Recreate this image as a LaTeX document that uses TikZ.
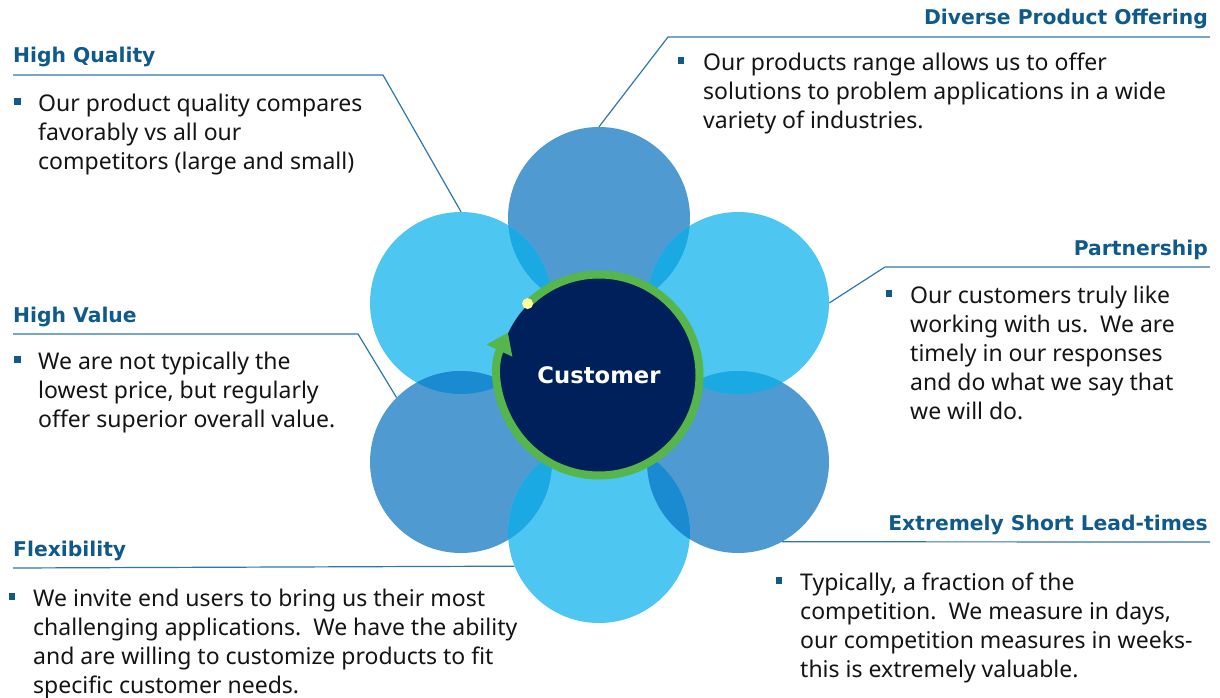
\documentclass[tikz,border=0pt]{standalone}
\usepackage{fontspec}
\setmainfont{Noto Sans}
\newfontfamily\headfont{DejaVu Sans}
\usetikzlibrary{arrows.meta}
\definecolor{medblue}{HTML}{4F9BD1}
\definecolor{lightblue}{HTML}{4DC6F2}
\definecolor{brightov}{HTML}{1AA9E3}
\definecolor{darkov}{HTML}{1A8BD0}
\definecolor{navy}{HTML}{00205B}
\definecolor{ringgreen}{HTML}{56B54B}
\definecolor{headcol}{HTML}{0F5A8A}
\definecolor{linecol}{HTML}{2E78A6}
\definecolor{bodycol}{HTML}{141414}
\definecolor{dotyellow}{HTML}{FFFF99}
\begin{document}
\begin{tikzpicture}[x=1pt,y=-1pt,
  petal/.style={circle,minimum size=182pt,inner sep=0pt},
  headL/.style={anchor=base west,inner sep=0pt,text=headcol,font=\headfont\bfseries\fontsize{20.3}{24}\selectfont},
  headR/.style={anchor=base east,inner sep=0pt,text=headcol,font=\headfont\bfseries\fontsize{20.3}{24}\selectfont},
  body/.style={anchor=base west,inner sep=0pt,text=bodycol,font=\fontsize{23}{29}\selectfont},
  bulletbox/.style={rectangle,fill=headcol,minimum size=6.5pt,inner sep=0pt},
  conn/.style={draw=linecol,line width=1.2pt},
  ring/.style={draw=ringgreen,line width=8pt,-{Triangle[length=20pt,width=27pt]}}
]
\useasboundingbox (0,0) rectangle (1220,698);
% petals
\node[petal,fill=medblue]   (ptop) at (599,218) {};
\node[petal,fill=lightblue] (pul)  at (461,303) {};
\node[petal,fill=lightblue] (pur)  at (738,303) {};
\node[petal,fill=medblue]   (pll)  at (461,462) {};
\node[petal,fill=medblue]   (plr)  at (738,462) {};
\node[petal,fill=lightblue] (pbot) at (599,532) {};
% overlaps
\begin{scope}\clip (ptop.center) circle[radius=91pt]; \fill[brightov] (pul.center) circle[radius=91pt];\end{scope}
\begin{scope}\clip (ptop.center) circle[radius=91pt]; \fill[brightov] (pur.center) circle[radius=91pt];\end{scope}
\begin{scope}\clip (pur.center) circle[radius=91pt]; \fill[brightov] (plr.center) circle[radius=91pt];\end{scope}
\begin{scope}\clip (plr.center) circle[radius=91pt]; \fill[darkov] (pbot.center) circle[radius=91pt];\end{scope}
\begin{scope}\clip (pbot.center) circle[radius=91pt]; \fill[brightov] (pll.center) circle[radius=91pt];\end{scope}
\begin{scope}\clip (pll.center) circle[radius=91pt]; \fill[darkov] (pul.center) circle[radius=91pt];\end{scope}
% centre
\node[circle,fill=navy,minimum size=200pt,inner sep=0pt,text=white,
      font=\headfont\bfseries\fontsize{22.7}{27}\selectfont] (cust) at (599,375) {Customer};
\begin{scope}[shift={(cust.center)},y=1pt]
  \draw[ring] (135:100.5) arc[start angle=135,end angle=-205,radius=100.5pt];
\end{scope}
\node[circle,fill=dotyellow,minimum size=11pt,inner sep=0pt] (dot) at ([shift={(135:101pt)}]cust.center) {};
% headings
\node[headL] (hq)   at (13,63)   {High Quality};
\node[headR] (dpo)  at (1208,25) {Diverse Product Offering};
\node[headR] (part) at (1208,255){Partnership};
\node[headL] (hv)   at (13,322)  {High Value};
\node[headL] (flex) at (13,556)  {Flexibility};
\node[headR] (esl)  at (1208,530){Extremely Short Lead-times};
% connector coordinates
\coordinate (hqL) at (13,75);   \coordinate (hqB) at (383,75);
\coordinate (dpoR) at (1210,37); \coordinate (dpoB) at (668,37);
\coordinate (partR) at (1210,267); \coordinate (partB) at (885,267);
\coordinate (hvL) at (13,334);  \coordinate (hvB) at (358,334);
\coordinate (flexL) at (13,568);
\coordinate (eslR) at (1210,542);
\draw[conn] (hqL) -- (hqB) -- (pul.north);
\draw[conn] (dpoR) -- (dpoB) -- (ptop.north);
\draw[conn] (partR) -- (partB) -- (pur.east);
\draw[conn] (hvL) -- (hvB) -- (pll.north west);
\draw[conn] (flexL) -- (pbot.202.6);
\draw[conn] (eslR) -- (plr.-61.7);
% bullets
\node[bulletbox] (bhq)   at (17.5,101.5) {};
\node[bulletbox] (bdpo)  at (681,60.5) {};
\node[bulletbox] (bpart) at (889,293.5) {};
\node[bulletbox] (bhv)   at (17.5,359.5) {};
\node[bulletbox] (bflex) at (12,596.5) {};
\node[bulletbox] (besl)  at (779,580.5) {};
% texts
\node[body] (thq) at (38,111.5) {\parbox[t]{400pt}{\raggedright Our product quality compares\\favorably vs all our\\competitors (large and small)}};
\node[body] (tdpo) at (703,70.5) {\parbox[t]{520pt}{\raggedright Our products range allows us to offer\\solutions to problem applications in a wide\\variety of industries.}};
\node[body] (tpart) at (910,303.5) {\parbox[t]{310pt}{\raggedright Our customers truly like\\working with us.\ \ We are\\timely in our responses\\and do what we say that\\we will do.}};
\node[body] (thv) at (38,369.5) {\parbox[t]{400pt}{\raggedright We are not typically the\\lowest price, but regularly\\offer superior overall value.}};
\node[body] (tflex) at (33,606.5) {\parbox[t]{560pt}{\raggedright We invite end users to bring us their most\\challenging applications.\ \ We have the ability\\and are willing to customize products to fit\\specific customer needs.}};
\node[body] (tesl) at (800,590.5) {\parbox[t]{420pt}{\raggedright Typically, a fraction of the\\competition.\ \ We measure in days,\\our competition measures in weeks-\\this is extremely valuable.}};
\end{tikzpicture}
\end{document}
